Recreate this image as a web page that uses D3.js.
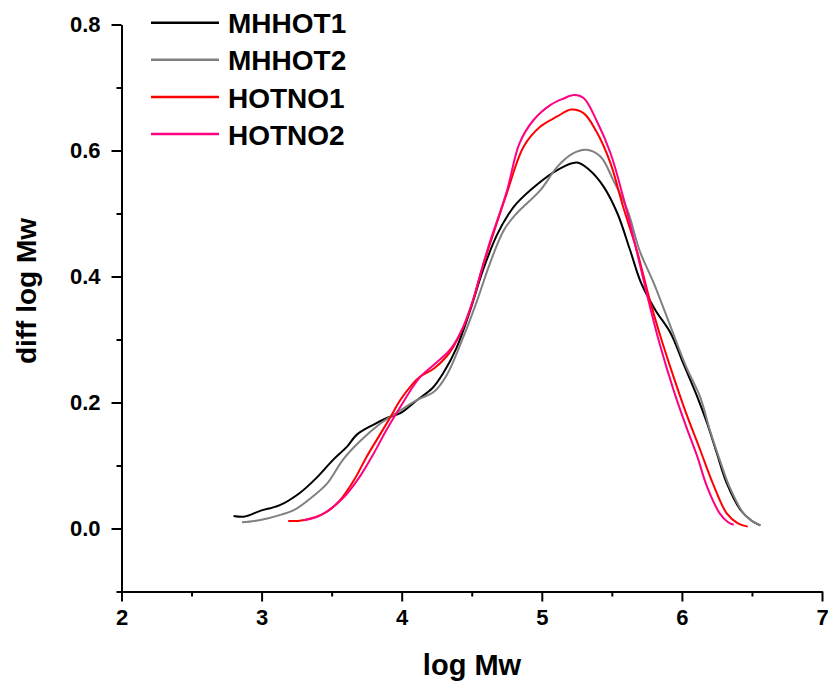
<!DOCTYPE html>
<html>
<head>
<meta charset="utf-8">
<script src="https://cdn.jsdelivr.net/npm/d3@7"></script>
<style>
  html, body { margin: 0; padding: 0; background: #fff; }
  svg { display: block; font-family: "Liberation Sans", Arial, sans-serif; font-weight: bold; }
</style>
</head>
<body>
<svg id="chart" width="835" height="686"></svg>
<script>
'use strict';

// series names + colours
const names = ['MHHOT1', 'MHHOT2', 'HOTNO1', 'HOTNO2'];
const colors = ['#000000', '#808080', '#ff0000', '#ff0080'];

// log Mw / diff log Mw
const mhhot1X = [2.80, 2.88, 2.99, 3.13, 3.27, 3.39, 3.51, 3.61, 3.68, 3.80, 3.89, 3.99, 4.11, 4.22, 4.30, 4.39,
  4.49, 4.58, 4.68, 4.76, 4.82, 4.96, 5.11, 5.25, 5.34, 5.44, 5.54, 5.63, 5.71, 5.81, 5.92, 6.01, 6.11, 6.18,
  6.25, 6.32, 6.42, 6.50, 6.56];
const mhhot1Y = [0.020, 0.019, 0.028, 0.037, 0.056, 0.080, 0.109, 0.130, 0.149, 0.165, 0.175, 0.183, 0.204, 0.223,
  0.248, 0.286, 0.347, 0.410, 0.466, 0.498, 0.516, 0.545, 0.569, 0.581, 0.569, 0.543, 0.500, 0.442, 0.389, 0.347,
  0.310, 0.262, 0.209, 0.167, 0.119, 0.072, 0.029, 0.012, 0.005];

const mhhot2X = [2.86, 2.95, 3.04, 3.14, 3.23, 3.35, 3.47, 3.58, 3.70, 3.85, 3.96, 4.11, 4.23, 4.32, 4.44, 4.54,
  4.63, 4.73, 4.82, 4.99, 5.11, 5.22, 5.32, 5.42, 5.51, 5.61, 5.70, 5.80, 5.92, 6.03, 6.13, 6.20, 6.27, 6.34,
  6.44, 6.50, 6.56];
const mhhot2Y = [0.010, 0.012, 0.016, 0.022, 0.029, 0.048, 0.072, 0.109, 0.138, 0.167, 0.183, 0.204, 0.217, 0.243,
  0.304, 0.363, 0.421, 0.474, 0.500, 0.537, 0.574, 0.595, 0.601, 0.590, 0.553, 0.506, 0.440, 0.389, 0.320, 0.257,
  0.209, 0.156, 0.109, 0.066, 0.024, 0.012, 0.005];

const hotno1X = [3.19, 3.26, 3.35, 3.47, 3.56, 3.66, 3.75, 3.85, 3.92, 3.99, 4.08, 4.13, 4.23, 4.32, 4.37, 4.44,
  4.51, 4.57, 4.62, 4.75, 4.87, 4.99, 5.11, 5.21, 5.30, 5.39, 5.49, 5.58, 5.68, 5.77, 5.84, 5.94, 6.03, 6.13,
  6.22, 6.32, 6.40, 6.47];
const hotno1Y = [0.012, 0.012, 0.016, 0.027, 0.045, 0.077, 0.114, 0.151, 0.177, 0.204, 0.230, 0.241, 0.254, 0.273,
  0.289, 0.320, 0.363, 0.410, 0.445, 0.532, 0.606, 0.638, 0.654, 0.665, 0.659, 0.630, 0.580, 0.511, 0.440, 0.363,
  0.310, 0.241, 0.183, 0.125, 0.072, 0.024, 0.008, 0.003];

const hotno2X = [3.30, 3.42, 3.58, 3.70, 3.80, 3.89, 3.99, 4.08, 4.13, 4.23, 4.35, 4.44, 4.51, 4.57, 4.62, 4.75,
  4.84, 4.94, 5.06, 5.15, 5.23, 5.30, 5.39, 5.49, 5.58, 5.67, 5.76, 5.84, 5.94, 6.03, 6.11, 6.18, 6.27, 6.33, 6.37];
const hotno2Y = [0.013, 0.021, 0.048, 0.082, 0.119, 0.156, 0.193, 0.225, 0.240, 0.260, 0.285, 0.320, 0.363, 0.410,
  0.448, 0.535, 0.611, 0.648, 0.672, 0.682, 0.688, 0.683, 0.648, 0.596, 0.527, 0.447, 0.363, 0.294, 0.220, 0.162,
  0.114, 0.066, 0.024, 0.010, 0.006];

const xTicks = [2, 3, 4, 5, 6, 7];
const xMinor = [2.5, 3.5, 4.5, 5.5, 6.5];
const yTicks = [0.0, 0.2, 0.4, 0.6, 0.8];
const yMinor = [-0.1, 0.1, 0.3, 0.5, 0.7];

function main() {
  const svg = d3.select('#chart');

  const x = d3.scaleLinear().domain([2, 7]).range([121.5, 822]);
  const y = d3.scaleLinear().domain([-0.1, 0.8]).range([591.5, 24.5]);

  const series = [
    [mhhot1X, mhhot1Y],
    [mhhot2X, mhhot2Y],
    [hotno1X, hotno1Y],
    [hotno2X, hotno2Y]
  ].map(([xs, ys], i) => ({
    name: names[i],
    color: colors[i],
    values: xs.map((v, j) => ({ x: v, y: ys[j] }))
  }));

  const line = d3.line()
    .x(d => x(d.x))
    .y(d => y(d.y))
    .curve(d3.curveCatmullRom.alpha(0.5));

  svg.append('g')
    .selectAll('path')
    .data(series)
    .enter().append('path')
    .attr('fill', 'none')
    .attr('stroke', d => d.color)
    .attr('stroke-width', 2)
    .attr('stroke-linejoin', 'round')
    .attr('d', d => line(d.values));

  // minor ticks first, then the major axes on top
  svg.append('g')
    .attr('transform', 'translate(0,' + y(-0.1) + ')')
    .call(d3.axisBottom(x).tickValues(xMinor).tickSize(5).tickSizeOuter(0).tickFormat(''));

  svg.append('g')
    .attr('transform', 'translate(' + x(2) + ',0)')
    .call(d3.axisLeft(y).tickValues(yMinor).tickSize(5).tickSizeOuter(0).tickFormat(''));

  svg.append('g')
    .attr('class', 'axis')
    .attr('transform', 'translate(0,' + y(-0.1) + ')')
    .call(d3.axisBottom(x).tickValues(xTicks).tickSize(10).tickSizeOuter(0).tickPadding(8)
      .tickFormat(d3.format('d')));

  svg.append('g')
    .attr('class', 'axis')
    .attr('transform', 'translate(' + x(2) + ',0)')
    .call(d3.axisLeft(y).tickValues(yTicks).tickSize(10).tickSizeOuter(0).tickPadding(11)
      .tickFormat(d3.format('.1f')));

  svg.selectAll('.domain, .tick line')
    .attr('stroke', '#000')
    .attr('stroke-width', 2);

  svg.selectAll('.axis text')
    .attr('fill', '#000')
    .style('font-family', '"Liberation Sans", Arial, sans-serif')
    .style('font-weight', 'bold')
    .style('font-size', '22px');

  svg.append('text')
    .attr('x', 472)
    .attr('y', 675)
    .attr('text-anchor', 'middle')
    .style('font-size', '29px')
    .text('log Mw');

  svg.append('text')
    .attr('transform', 'translate(36,291) rotate(-90)')
    .attr('text-anchor', 'middle')
    .style('font-size', '28px')
    .text('diff log Mw');

  legend(svg, series);
}

function legend(svg, series) {
  const g = svg.append('g').attr('class', 'legend');

  const row = g.selectAll('g')
    .data(series)
    .enter().append('g')
    .attr('transform', (d, i) => 'translate(0,' + (22.7 + i * 37.1) + ')');

  row.append('line')
    .attr('x1', 151)
    .attr('x2', 219)
    .attr('stroke', d => d.color)
    .attr('stroke-width', 2.5);

  row.append('text')
    .attr('x', 228)
    .attr('y', 10.6)
    .style('font-size', '28px')
    .text(d => d.name);
}

if (document.readyState !== 'loading')
  main();
else
  document.addEventListener('DOMContentLoaded', main);
</script>
</body>
</html>
